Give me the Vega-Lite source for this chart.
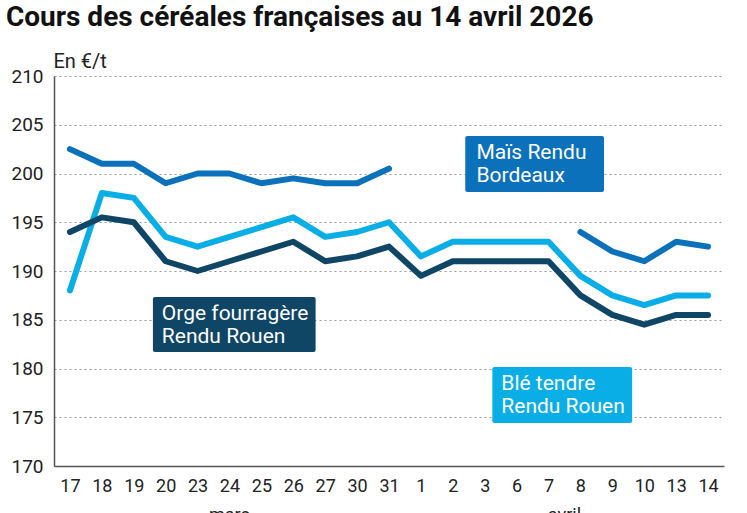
{
  "$schema": "https://vega.github.io/schema/vega-lite/v6.json",
  "width": 670,
  "height": 390,
  "autosize": "none",
  "padding": {"left": 54, "top": 76, "right": 23, "bottom": 47},
  "background": "white",
  "title": {
    "text": "Cours des céréales françaises au 14 avril 2026",
    "anchor": "start",
    "font": "Roboto",
    "fontSize": 28,
    "fontWeight": "bold",
    "color": "#111111",
    "baseline": "alphabetic",
    "dx": -5,
    "offset": -3
  },
  "config": {
    "view": {"stroke": null},
    "font": "Roboto",
    "axisX": {"labelOverlap": false, "tickCount": 21}
  },
  "datasets": {
    "cours": [
      {"i": 0, "jour": "17", "mais": 202.5, "ble": 188, "orge": 194},
      {"i": 1, "jour": "18", "mais": 201, "ble": 198, "orge": 195.5},
      {"i": 2, "jour": "19", "mais": 201, "ble": 197.5, "orge": 195},
      {"i": 3, "jour": "20", "mais": 199, "ble": 193.5, "orge": 191},
      {"i": 4, "jour": "23", "mais": 200, "ble": 192.5, "orge": 190},
      {"i": 5, "jour": "24", "mais": 200, "ble": 193.5, "orge": 191},
      {"i": 6, "jour": "25", "mais": 199, "ble": 194.5, "orge": 192},
      {"i": 7, "jour": "26", "mais": 199.5, "ble": 195.5, "orge": 193},
      {"i": 8, "jour": "27", "mais": 199, "ble": 193.5, "orge": 191},
      {"i": 9, "jour": "30", "mais": 199, "ble": 194, "orge": 191.5},
      {"i": 10, "jour": "31", "mais": 200.5, "ble": 195, "orge": 192.5},
      {"i": 11, "jour": "1", "mais": null, "ble": 191.5, "orge": 189.5},
      {"i": 12, "jour": "2", "mais": null, "ble": 193, "orge": 191},
      {"i": 13, "jour": "3", "mais": null, "ble": 193, "orge": 191},
      {"i": 14, "jour": "6", "mais": null, "ble": 193, "orge": 191},
      {"i": 15, "jour": "7", "mais": null, "ble": 193, "orge": 191},
      {"i": 16, "jour": "8", "mais": 194, "ble": 189.5, "orge": 187.5},
      {"i": 17, "jour": "9", "mais": 192, "ble": 187.5, "orge": 185.5},
      {"i": 18, "jour": "10", "mais": 191, "ble": 186.5, "orge": 184.5},
      {"i": 19, "jour": "13", "mais": 193, "ble": 187.5, "orge": 185.5},
      {"i": 20, "jour": "14", "mais": 192.5, "ble": 187.5, "orge": 185.5}
    ],
    "etiquettes": [
      {"serie": "mais", "x0": 12.39, "x1": 16.74, "xt": 12.74, "y0": 198.1, "y1": 203.85, "yt": 202.1, "label": "Maïs Rendu\nBordeaux"},
      {"serie": "orge", "x0": 2.6, "x1": 7.7, "xt": 2.88, "y0": 181.69, "y1": 187.33, "yt": 185.59, "label": "Orge fourragère\nRendu Rouen"},
      {"serie": "ble", "x0": 13.24, "x1": 17.62, "xt": 13.52, "y0": 174.41, "y1": 180.15, "yt": 178.41, "label": "Blé tendre\nRendu Rouen"}
    ],
    "mois": [
      {"x": 5, "y": 165.8, "mois": "mars"},
      {"x": 15.5, "y": 165.8, "mois": "avril"}
    ]
  },
  "layer": [
    {
      "data": {"name": "cours"},
      "transform": [{"fold": ["mais", "ble", "orge"], "as": ["serie", "prix"]}],
      "mark": {"type": "line", "strokeWidth": 6, "strokeJoin": "round", "strokeCap": "round", "invalid": "break-paths-show-domains"},
      "encoding": {
        "x": {
          "field": "i",
          "type": "quantitative",
          "scale": {"domain": [-0.5, 20.5], "nice": false, "zero": false},
          "axis": {
            "title": null,
            "values": [0, 1, 2, 3, 4, 5, 6, 7, 8, 9, 10, 11, 12, 13, 14, 15, 16, 17, 18, 19, 20],
            "labelExpr": "['17','18','19','20','23','24','25','26','27','30','31','1','2','3','6','7','8','9','10','13','14'][datum.value]",
            "labelOverlap": false,
            "grid": false,
            "ticks": false,
            "domainColor": "#555555",
            "domainWidth": 1.5,
            "labelFontSize": 18,
            "labelColor": "#222222",
            "labelPadding": 11,
            "labelFlush": false
          }
        },
        "y": {
          "field": "prix",
          "type": "quantitative",
          "scale": {"domain": [170, 210], "nice": false, "zero": false},
          "axis": {
            "title": "En €/t",
            "titleAngle": 0,
            "titleAlign": "left",
            "titleBaseline": "alphabetic",
            "titleX": -1,
            "titleY": -9,
            "titleFontSize": 20,
            "titleFontWeight": "normal",
            "titleColor": "#222222",
            "values": [170, 175, 180, 185, 190, 195, 200, 205, 210],
            "ticks": false,
            "domainColor": "#555555",
            "domainWidth": 1.5,
            "gridColor": "#9a9a9a",
            "gridDash": [2, 3],
            "gridWidth": 1.2,
            "labelFontSize": 19,
            "labelColor": "#222222",
            "labelPadding": 11
          }
        },
        "color": {
          "field": "serie",
          "type": "nominal",
          "scale": {"domain": ["mais", "ble", "orge"], "range": ["#0b71bb", "#0aaee6", "#0f4565"]},
          "legend": null
        }
      }
    },
    {
      "data": {"name": "etiquettes"},
      "mark": {"type": "rect", "cornerRadius": 2},
      "encoding": {
        "x": {"field": "x0", "type": "quantitative"},
        "x2": {"field": "x1"},
        "y": {"field": "y0", "type": "quantitative"},
        "y2": {"field": "y1"},
        "color": {"field": "serie", "type": "nominal", "legend": null}
      }
    },
    {
      "data": {"name": "etiquettes"},
      "mark": {"type": "text", "align": "left", "baseline": "middle", "lineBreak": "\n", "fontSize": 21, "lineHeight": 23, "color": "white"},
      "encoding": {
        "x": {"field": "xt", "type": "quantitative"},
        "y": {"field": "yt", "type": "quantitative"},
        "text": {"field": "label"}
      }
    },
    {
      "data": {"name": "mois"},
      "mark": {"type": "text", "align": "center", "baseline": "top", "fontSize": 18, "color": "#222222", "clip": false},
      "encoding": {
        "x": {"field": "x", "type": "quantitative"},
        "y": {"field": "y", "type": "quantitative"},
        "text": {"field": "mois"}
      }
    }
  ]
}
